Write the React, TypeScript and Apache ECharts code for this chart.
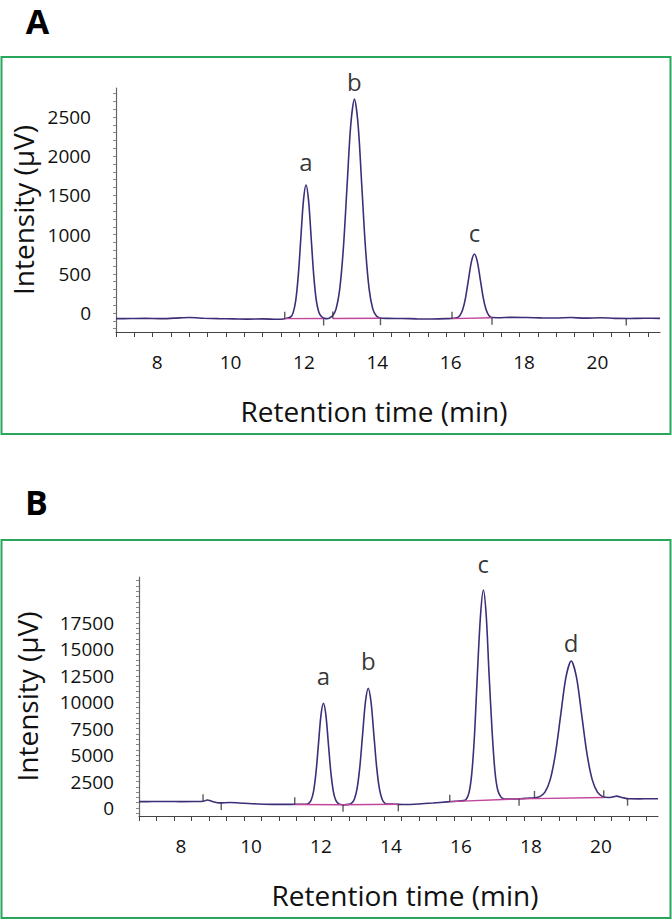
import React, { useEffect, useRef } from "react";
import * as echarts from "echarts";

const FONT = '"Open Sans", "Noto Sans", sans-serif';

// ---------- shared axis labels ----------
const xTickValues = [7, 7.5, 8, 8.5, 9, 9.5, 10, 10.5, 11, 11.5, 12, 12.5, 13, 13.5, 14, 14.5, 15, 15.5, 16, 16.5, 17, 17.5, 18, 18.5, 19, 19.5, 20, 20.5, 21, 21.5];
const xLabelValues = [8, 10, 12, 14, 16, 18, 20];

// ---------- panel A ----------
const yLabelsA = [0, 500, 1000, 1500, 2000, 2500];
const traceA: [number, number][] = [
  [7.0, -72], [7.4, -70], [7.8, -68], [8.2, -72], [8.6, -65], [9.0, -58], [9.4, -66], [9.8, -72], [10.2, -75], [10.6, -78], [11.0, -75], [11.4, -80], [11.6, -72],
  [11.76, -51], [11.83, 5], [11.9, 160], [11.97, 483], [12.04, 963], [12.11, 1433], [12.18, 1633], [12.25, 1433], [12.32, 963], [12.39, 483], [12.46, 160], [12.53, 10], [12.6, -45], [12.68, -66],
  [12.75, -72],
  [12.8, -68], [12.9, -39], [13.0, 53], [13.1, 309], [13.2, 839], [13.3, 1628], [13.4, 2401], [13.5, 2730], [13.6, 2401], [13.7, 1628], [13.8, 839], [13.9, 309], [14.0, 53], [14.1, -39], [14.2, -64],
  [14.4, -68], [14.8, -70], [15.2, -74], [15.6, -76], [16.0, -72],
  [16.29, -61], [16.37, -34], [16.45, 41], [16.53, 197], [16.61, 429], [16.69, 656], [16.77, 753], [16.85, 656], [16.93, 429], [17.01, 197], [17.09, 41], [17.17, -34], [17.25, -58],
  [17.4, -60], [17.8, -55], [18.2, -58], [18.6, -62], [19.0, -64], [19.4, -58], [19.8, -65], [20.2, -60], [20.6, -68], [21.0, -70], [21.4, -66], [21.83, -68],
];
const peakNamesA = ["a", "b", "c"];
const peakTimesA = [12.18, 13.5, 16.77];
const peakTopsA = [1633, 2730, 753];
const integrationA: [number, number][][] = [
  [[11.6, -72], [12.66, -70]],
  [[12.91, -70], [14.21, -66]],
  [[16.16, -72], [17.25, -60]],
];
const startMarksA: [number, number][] = [[11.6, -72], [12.91, -70], [16.16, -72]];
const endMarksA: [number, number][] = [[12.66, -70], [14.21, -66], [17.25, -60], [20.91, -70]];

// ---------- panel B ----------
const yLabelsB = [0, 2500, 5000, 7500, 10000, 12500, 15000, 17500];
const traceB: [number, number][] = [
  [7.0, 600], [7.4, 610], [7.8, 620], [8.2, 600], [8.6, 610], [8.84, 640], [8.95, 760], [9.1, 620], [9.3, 480], [9.6, 520], [10.0, 450], [10.4, 380], [10.8, 340], [11.2, 340], [11.5, 350],
  [11.78, 351], [11.85, 436], [11.92, 750], [11.99, 1625], [12.06, 3439], [12.13, 6137], [12.2, 8780], [12.27, 9905], [12.34, 8780], [12.41, 6137], [12.48, 3439], [12.55, 1625], [12.62, 750], [12.69, 436], [12.76, 340],
  [12.86, 300],
  [12.99, 344], [13.07, 442], [13.15, 803], [13.23, 1808], [13.31, 3892], [13.39, 6992], [13.47, 10028], [13.55, 11320], [13.63, 10028], [13.71, 6992], [13.79, 3892], [13.87, 1808], [13.95, 803], [14.03, 442], [14.11, 370],
  [14.3, 360], [14.6, 330], [15.0, 380], [15.4, 470], [15.8, 580], [16.1, 650],
  [16.26, 700], [16.34, 780], [16.43, 1450], [16.51, 3300], [16.59, 7100], [16.67, 12750], [16.76, 18280], [16.84, 20620], [16.92, 18300], [17.0, 12850], [17.09, 7250], [17.17, 3500], [17.25, 1700], [17.34, 1050], [17.42, 880],
  [17.6, 850], [17.9, 880], [18.1, 920],
  [18.3, 959], [18.45, 1074], [18.6, 1500], [18.75, 2686], [18.9, 5143], [19.05, 8799], [19.2, 12380], [19.35, 13905], [19.5, 12380], [19.65, 8799], [19.8, 5143], [19.95, 2686], [20.1, 1500], [20.25, 1074], [20.4, 990],
  [20.55, 1050], [20.65, 1120], [20.8, 1000], [21.0, 870], [21.3, 860], [21.6, 880], [21.83, 870],
];
const peakNamesB = ["a", "b", "c", "d"];
const peakTimesB = [12.27, 13.55, 16.84, 19.35];
const peakTopsB = [9905, 11320, 20620, 13905];
const integrationB: [number, number][][] = [
  [[11.45, 330], [12.83, 305], [14.41, 360]],
  [[15.88, 600], [17.86, 860], [20.28, 990]],
];
const startMarksB: [number, number][] = [[8.83, 640], [11.45, 350], [15.88, 590], [18.3, 950], [20.28, 1020]];
const endMarksB: [number, number][] = [[9.35, 480], [12.83, 300], [14.41, 350], [17.86, 870], [20.96, 880]];

// ---------- styles ----------
const TRACE_COLOR = "#3f2d78";
const PINK = "#c2479a";
const GREEN = "#27a65c";
const AXIS_COLOR = "#444";

const labelGapA = [11, 5, 9];
const labelGapB = [15, 15, 14, 6];

function ticksEvery(from: number, to: number, step: number) {
  const out: number[] = [];
  for (let v = from; v <= to + 1e-9; v += step) out.push(Math.round(v * 1000) / 1000);
  return out;
}

function xAxisCfg(gridIndex: number, labelPad: number, namePad: number[]) {
  return {
    type: "value",
    gridIndex,
    min: 7,
    max: 21.83,
    axisLine: { show: true, onZero: false, lineStyle: { color: AXIS_COLOR, width: 1.2 } },
    axisTick: { show: true, customValues: xTickValues, length: 5, lineStyle: { color: AXIS_COLOR, width: 1 } },
    axisLabel: {
      customValues: xLabelValues,
      formatter: (v: number) => String(v),
      margin: 20,
      fontFamily: FONT,
      fontSize: 19,
      color: "#111",
      padding: [0, 0, 0, labelPad],
    },
    splitLine: { show: false },
    name: "Retention time (min)",
    nameLocation: "middle",
    nameGap: 65,
    nameTextStyle: { fontFamily: FONT, fontSize: 28, color: "#111", padding: namePad },
  };
}

function yAxisCfg(gridIndex: number, min: number, max: number, labels: number[], ticks: number[], nameGap: number) {
  return {
    type: "value",
    gridIndex,
    min,
    max,
    axisLine: { show: true, onZero: false, lineStyle: { color: "#666", width: 1.2 } },
    axisTick: { show: true, customValues: ticks, length: 3, lineStyle: { color: "#888", width: 1 } },
    axisLabel: {
      customValues: labels,
      formatter: (v: number) => String(v),
      margin: 25,
      fontFamily: FONT,
      fontSize: 19,
      color: "#111",
    },
    splitLine: { show: false },
    name: "Intensity (μV)",
    nameLocation: "middle",
    nameRotate: 90,
    nameGap,
    nameTextStyle: { fontFamily: FONT, fontSize: 28, color: "#111" },
  };
}

function panelSeries(
  idx: number,
  trace: [number, number][],
  integration: [number, number][][],
  starts: [number, number][],
  ends: [number, number][],
  names: string[],
  times: number[],
  tops: number[],
  gaps: number[]
) {
  const list: any[] = [];
  list.push({
    type: "line",
    xAxisIndex: idx,
    yAxisIndex: idx,
    data: trace,
    showSymbol: false,
    smooth: 0.3,
    lineStyle: { color: TRACE_COLOR, width: 1.6 },
    z: 3,
  });
  integration.forEach((seg) => {
    list.push({
      type: "line",
      xAxisIndex: idx,
      yAxisIndex: idx,
      data: seg,
      showSymbol: false,
      lineStyle: { color: PINK, width: 1.4 },
      z: 4,
    });
  });
  list.push({
    type: "scatter",
    xAxisIndex: idx,
    yAxisIndex: idx,
    data: starts,
    symbol: "rect",
    symbolSize: [1.4, 7],
    symbolOffset: [0, -3.5],
    itemStyle: { color: "#333" },
    z: 5,
  });
  list.push({
    type: "scatter",
    xAxisIndex: idx,
    yAxisIndex: idx,
    data: ends,
    symbol: "rect",
    symbolSize: [1.4, 7],
    symbolOffset: [0, 3.5],
    itemStyle: { color: "#333" },
    z: 5,
  });
  list.push({
    type: "scatter",
    xAxisIndex: idx,
    yAxisIndex: idx,
    symbolSize: 1,
    itemStyle: { color: "rgba(0,0,0,0)" },
    data: names.map((n, i) => ({
      value: [times[i], tops[i]],
      name: n,
      label: { distance: gaps[i] },
    })),
    label: {
      show: true,
      position: "top",
      formatter: (p: any) => p.name,
      fontFamily: FONT,
      fontSize: 24,
      color: "#000",
    },
    z: 6,
  });
  return list;
}

export default function App() {
  const ref = useRef<HTMLDivElement>(null);
  useEffect(() => {
    document.body.style.margin = "0";
    if (!ref.current) return;
    const chart = echarts.init(ref.current, undefined, { renderer: "svg" });
    chart.setOption({
      animation: false,
      backgroundColor: "#fff",
      grid: [
        { left: 116, top: 88, width: 544, height: 244, outerBoundsMode: "none" },
        { left: 139, top: 577, width: 519, height: 239, outerBoundsMode: "none" },
      ],
      xAxis: [xAxisCfg(0, 9, [0, 28, 0, 0]), xAxisCfg(1, 14, [0, 0, 0, 13])],
      yAxis: [
        yAxisCfg(0, -242, 2870, yLabelsA, ticksEvery(-200, 2800, 100), 78),
        yAxisCfg(1, -757, 21852, yLabelsB, ticksEvery(-500, 21500, 500), 98),
      ],
      series: [
        ...panelSeries(0, traceA, integrationA, startMarksA, endMarksA, peakNamesA, peakTimesA, peakTopsA, labelGapA),
        ...panelSeries(1, traceB, integrationB, startMarksB, endMarksB, peakNamesB, peakTimesB, peakTopsB, labelGapB),
      ],
      graphic: [
        { type: "rect", shape: { x: 1.5, y: 57, width: 669, height: 377 }, style: { fill: "none", stroke: GREEN, lineWidth: 2 } },
        { type: "rect", shape: { x: 1.5, y: 540, width: 669, height: 378 }, style: { fill: "none", stroke: GREEN, lineWidth: 2 } },
        { type: "text", x: 37.5, y: 4, style: { text: "A", fontFamily: FONT, fontWeight: "bold", fontSize: 34, lineHeight: 34, fill: "#000", align: "center", verticalAlign: "top" } },
        { type: "text", x: 36.5, y: 485, style: { text: "B", fontFamily: FONT, fontWeight: "bold", fontSize: 34, lineHeight: 34, fill: "#000", align: "center", verticalAlign: "top" } },
      ],
    });
    return () => chart.dispose();
  }, []);
  return <div ref={ref} style={{ width: 672, height: 920 }} />;
}
